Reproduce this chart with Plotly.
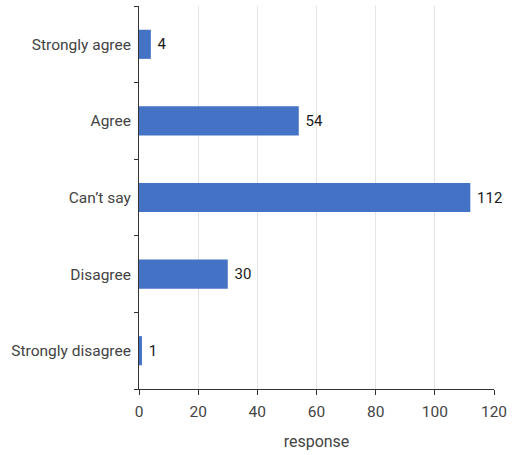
import plotly.graph_objects as go

categories = ["Strongly agree", "Agree", "Can\u2019t say", "Disagree", "Strongly disagree"]
responses = [4, 54, 112, 30, 1]
x_ticks = [0, 20, 40, 60, 80, 100, 120]

FONT = "Roboto, Arial, sans-serif"

fig = go.Figure(
    go.Bar(
        x=responses,
        y=categories,
        orientation="h",
        marker=dict(color="#4472C4", line=dict(width=0)),
        width=0.38,
        text=[str(v) for v in responses],
        texttemplate=" %{text}",
        textposition="outside",
        textfont=dict(family=FONT, size=15, color="#1a1a1a"),
        cliponaxis=False,
    )
)

fig.update_layout(
    width=513,
    height=455,
    margin=dict(l=139, r=16, t=6, b=66),
    plot_bgcolor="white",
    paper_bgcolor="white",
    showlegend=False,
    font=dict(family=FONT, size=15.5, color="#444444"),
)

fig.update_xaxes(
    range=[0, 120],
    tickvals=x_ticks,
    showgrid=True,
    gridcolor="#e3e3e3",
    gridwidth=1,
    showline=True,
    linecolor="#333333",
    linewidth=1,
    ticks="outside",
    ticklen=5,
    tickcolor="#333333",
    zeroline=False,
    ticklabelstandoff=3,
    title=dict(text="response", standoff=16, font=dict(size=16)),
)

fig.update_yaxes(
    categoryorder="array",
    categoryarray=categories[::-1],
    showline=True,
    linecolor="#333333",
    linewidth=1,
    ticks="outside",
    tickson="boundaries",
    ticklen=4,
    tickcolor="#333333",
    showgrid=False,
    ticklabelstandoff=4,
)

fig.write_html("out.html")
